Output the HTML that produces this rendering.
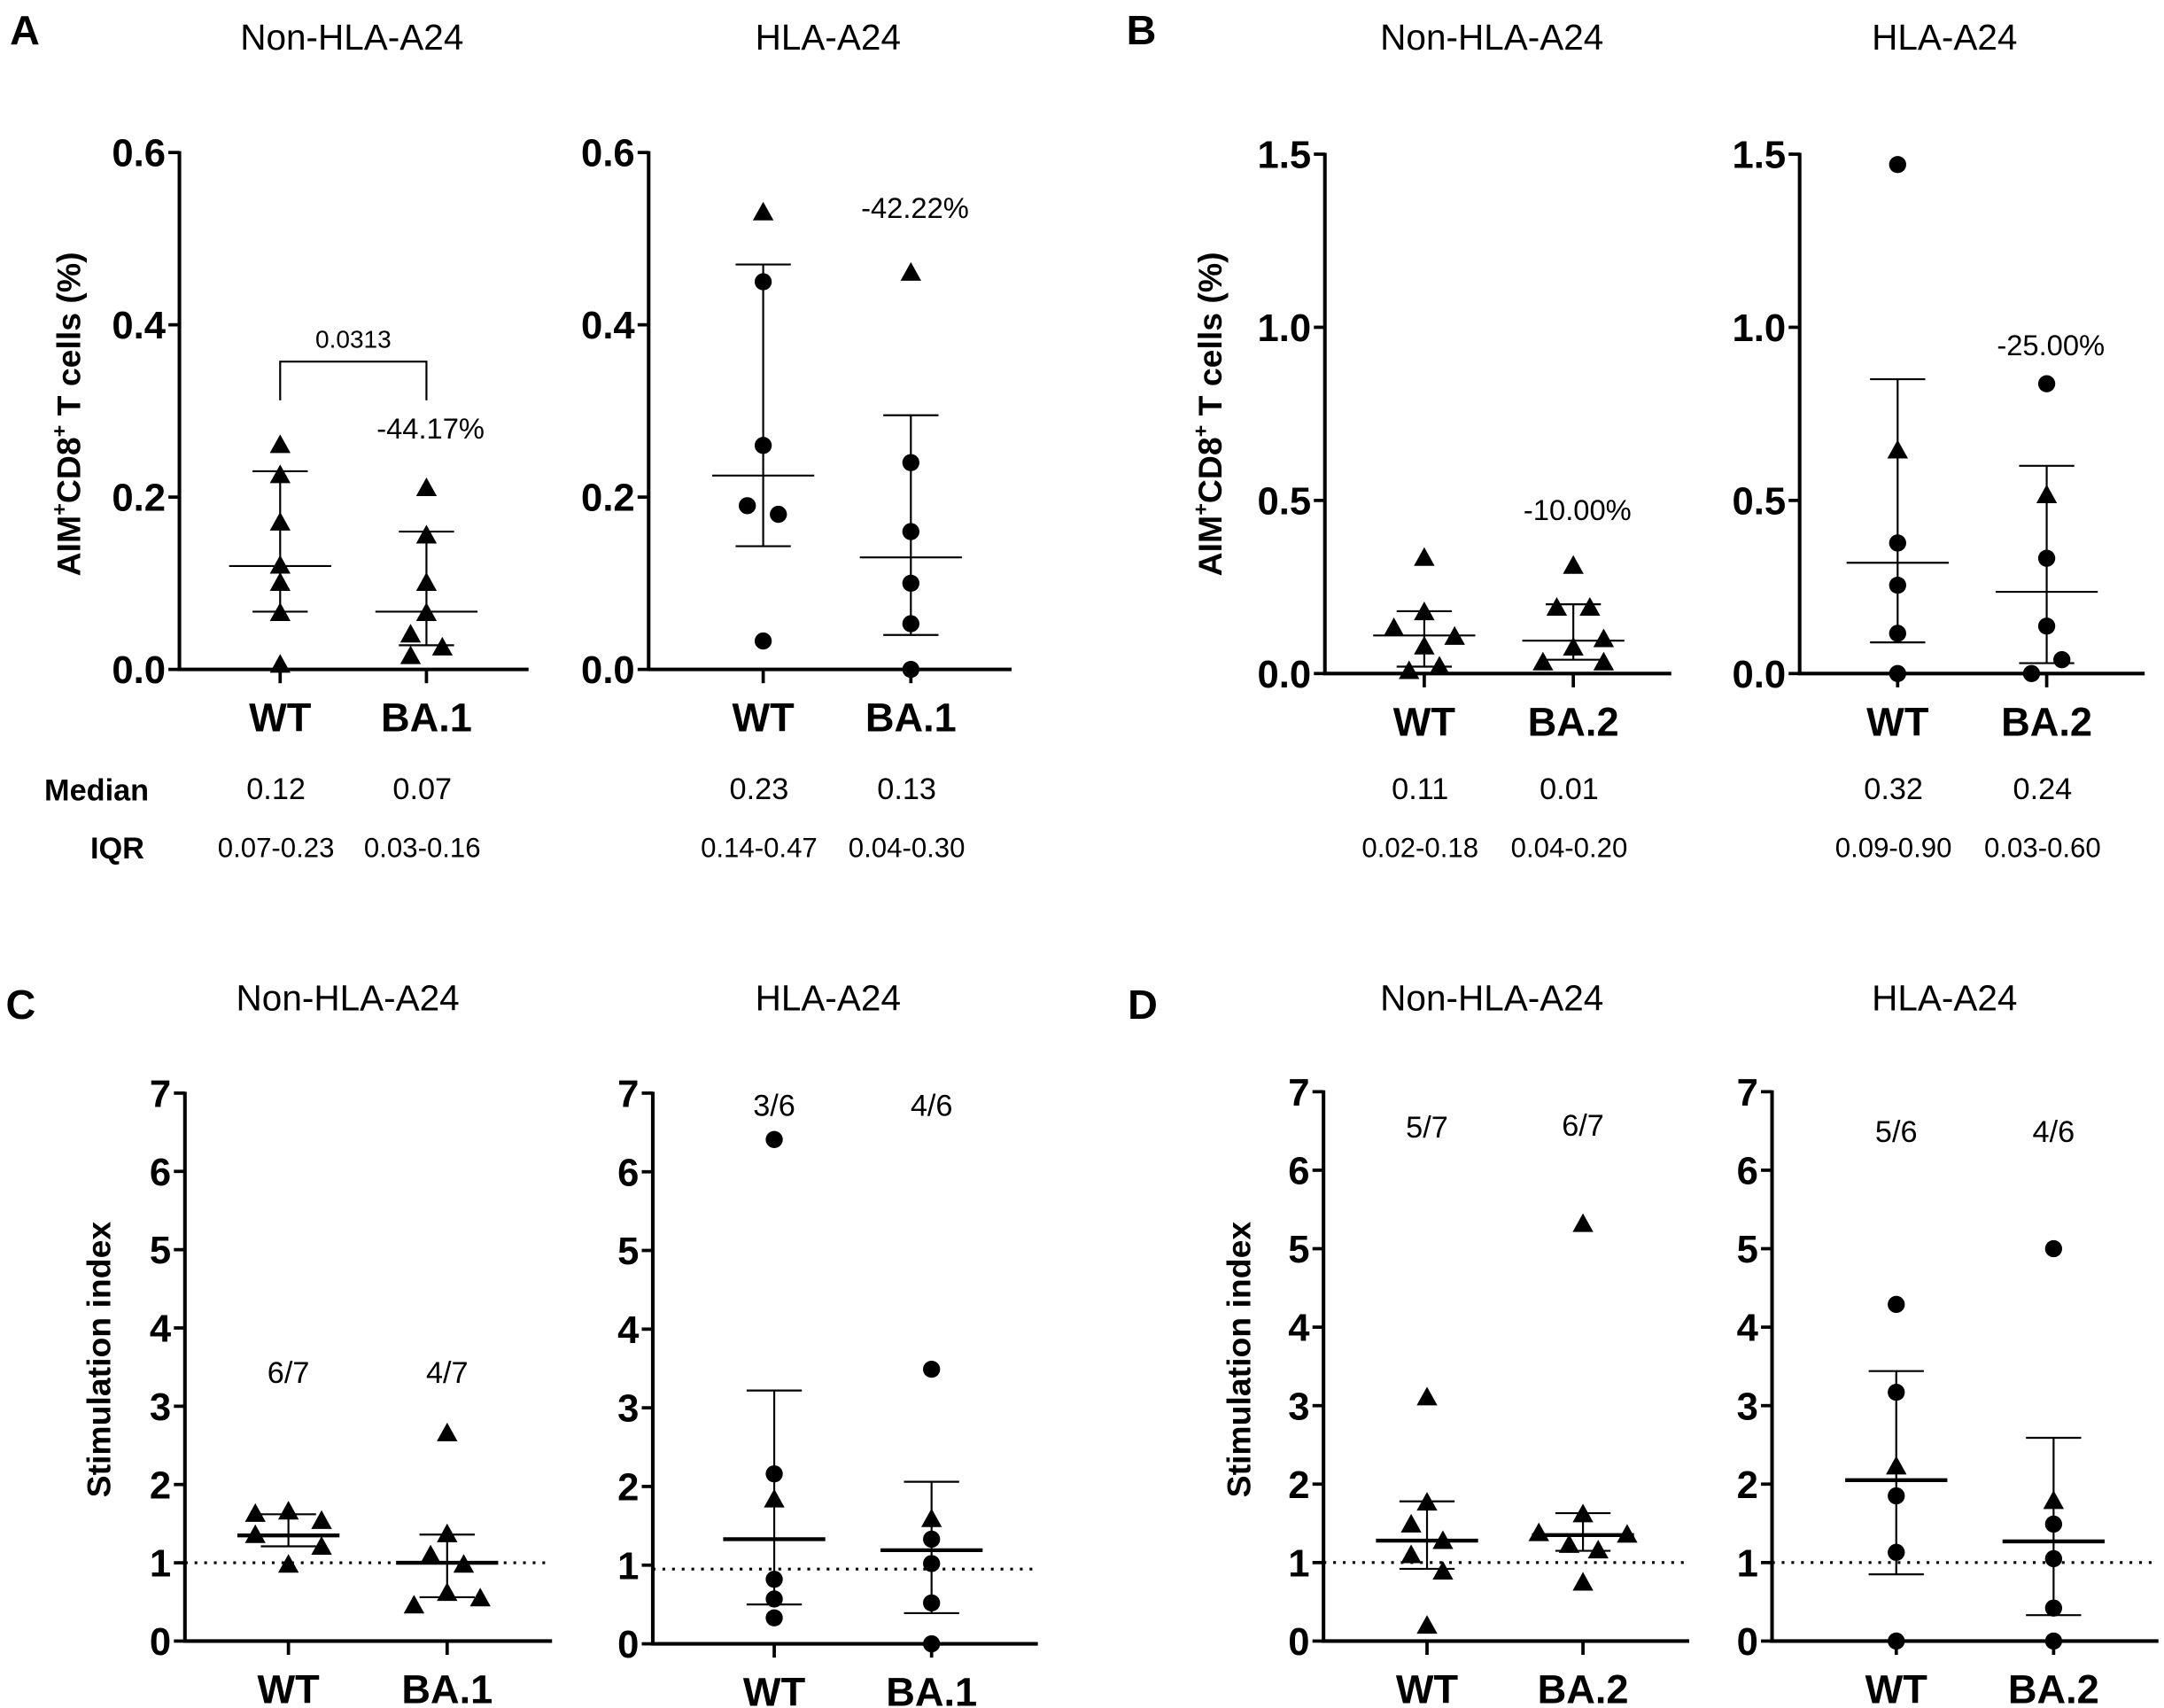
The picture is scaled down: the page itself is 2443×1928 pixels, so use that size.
<!DOCTYPE html>
<html><head><meta charset="utf-8"><style>
html,body{margin:0;padding:0;background:#fff;}
svg{display:block;}
text{font-family:"Liberation Sans",Arial,sans-serif;fill:#000;}
</style></head><body>
<svg id="fig" xmlns="http://www.w3.org/2000/svg" width="2443" height="1928" viewBox="0 0 1568 1237.5" preserveAspectRatio="none"></svg>
<script>
// ---- data ----
const aTicks = ['0.0','0.2','0.4','0.6'];
const bTicks = ['0.0','0.5','1.0','1.5'];
const cTicks = ['0','1','2','3','4','5','6','7'];
const aTickVals = [0,0.2,0.4,0.6];
const bTickVals = [0,0.5,1.0,1.5];
const cTickVals = [0,1,2,3,4,5,6,7];

const a1WT = [0.26,0.225,0.17,0.12,0.10,0.065,0.005];
const a1WTShape = ['t','t','t','t','t','t','t'];
const a1BA = [0.21,0.155,0.10,0.065,0.04,0.025,0.015];
const a1BAShape = ['t','t','t','t','t','t','t'];
const a2WT = [0.53,0.45,0.26,0.19,0.18,0.033];
const a2WTShape = ['t','c','c','c','c','c'];
const a2BA = [0.46,0.24,0.16,0.10,0.053,0.0];
const a2BAShape = ['t','c','c','c','c','c'];
const b1WT = [0.333,0.176,0.13,0.105,0.077,0.019,0.006];
const b1WTShape = ['t','t','t','t','t','t','t'];
const b1BA = [0.31,0.189,0.189,0.098,0.074,0.031,0.031];
const b1BAShape = ['t','t','t','t','t','t','t'];
const b2WT = [1.47,0.643,0.377,0.255,0.116,0.0];
const b2WTShape = ['c','t','c','c','c','c'];
const b2BA = [0.837,0.514,0.333,0.137,0.04,0.0];
const b2BAShape = ['c','t','c','c','c','c'];
const c1WT = [1.62,1.65,1.53,1.35,1.20,0.97];
const c1WTShape = ['t','t','t','t','t','t'];
const c1BA = [2.65,1.36,1.09,0.97,0.61,0.45,0.54];
const c1BAShape = ['t','t','t','t','t','t','t'];
const c2WT = [6.41,2.16,1.83,0.82,0.57,0.33];
const c2WTShape = ['c','c','t','c','c','c'];
const c2BA = [3.49,1.58,1.33,1.02,0.52,0.0];
const c2BAShape = ['c','t','c','c','c','c'];
const d1WT = [3.10,1.76,1.48,1.27,1.09,0.88,0.19];
const d1WTShape = ['t','t','t','t','t','t','t'];
const d1BA = [5.31,1.61,1.37,1.35,1.22,1.15,0.74];
const d1BAShape = ['t','t','t','t','t','t','t'];
const d2WT = [4.29,3.17,2.22,1.85,1.13,0.0];
const d2WTShape = ['c','c','t','c','c','c'];
const d2BA = [5.0,1.78,1.49,1.05,0.42,0.0];
const d2BAShape = ['c','t','c','c','c','c'];

// stats: [median, q1, q3] per group
const a1Stats = [[0.12,0.067,0.23],[0.067,0.028,0.16]];
const a2Stats = [[0.225,0.143,0.47],[0.13,0.04,0.295]];
const b1Stats = [[0.11,0.02,0.18],[0.095,0.04,0.20]];
const b2Stats = [[0.32,0.09,0.85],[0.236,0.03,0.60]];
const c1Stats = [[1.35,1.21,1.62],[1.0,0.56,1.36]];
const c2Stats = [[1.33,0.50,3.22],[1.19,0.39,2.06]];
const d1Stats = [[1.28,0.92,1.78],[1.35,1.15,1.63]];
const d2Stats = [[2.05,0.85,3.44],[1.27,0.33,2.59]];

const medianText = [['0.12','0.07'],['0.23','0.13'],['0.11','0.01'],['0.32','0.24']];
const iqrText = [['0.07-0.23','0.03-0.16'],['0.14-0.47','0.04-0.30'],['0.02-0.18','0.04-0.20'],['0.09-0.90','0.03-0.60']];
const ratioText = [['6/7','4/7'],['3/6','4/6'],['5/7','6/7'],['5/6','4/6']];
const ratioY = [[3.44,3.44],[6.85,6.85],[6.56,6.58],[6.5,6.5]];

// ---- layout (positions, not data) ----
const jA1W=[0,0,0,0,0,0,0], jA1B=[0,0,0,0,-11.5,11.5,-11.5];
const jA2W=[0,0,0,-11.5,11,0], jA2B=[0,0,0,0,0,0];
const jB1W=[0,0,-22,22,0,11,-11], jB1B=[0,-12,12,22,0,-22,22];
const jB2W=[0,0,0,0,0,0], jB2B=[0,0,0,0,11,-11];
const jC1W=[-24,0,24,-24,24,0], jC1B=[0,0,-12,12,0,-24,24];
const jC2W=[0,0,0,0,0,0], jC2B=[0,0,0,0,0,0];
const jD1W=[0,0,-11.5,11.5,-11.5,11.5,0], jD1B=[0,0,-32,32,-10,11,0];
const jD2W=[0,0,0,0,0,0], jD2B=[0,0,0,0,0,0];

const NS='http://www.w3.org/2000/svg';
const svg=document.getElementById('fig');
function mk(tag,attrs,parent){const e=document.createElementNS(NS,tag);for(const k in attrs)e.setAttribute(k,attrs[k]);(parent||svg).appendChild(e);return e;}
function txt(s,x,y,size,weight,anchor,parent){const t=mk('text',{x:x,y:y,'font-size':size,'font-weight':weight||'normal','text-anchor':anchor||'middle'},parent);t.textContent=s;return t;}

const panels=[
 {id:'a1',ax:130,x1:383,y0:485,yT:110.5,max:0.6,tv:aTickVals,tl:aTicks,cx:[203,309],cats:['WT','BA.1'],g:[[a1WT,a1WTShape,jA1W],[a1BA,a1BAShape,jA1B]],st:a1Stats,thick:false,title:'Non-HLA-A24',tx:255,ty:36},
 {id:'a2',ax:470,x1:733,y0:485,yT:110.5,max:0.6,tv:aTickVals,tl:aTicks,cx:[553,660],cats:['WT','BA.1'],g:[[a2WT,a2WTShape,jA2W],[a2BA,a2BAShape,jA2B]],st:a2Stats,thick:false,title:'HLA-A24',tx:600,ty:36},
 {id:'b1',ax:960,x1:1211,y0:488,yT:111.7,max:1.5,tv:bTickVals,tl:bTicks,cx:[1032,1140],cats:['WT','BA.2'],g:[[b1WT,b1WTShape,jB1W],[b1BA,b1BAShape,jB1B]],st:b1Stats,thick:false,title:'Non-HLA-A24',tx:1081,ty:36},
 {id:'b2',ax:1304,x1:1554,y0:488,yT:111.7,max:1.5,tv:bTickVals,tl:bTicks,cx:[1375,1483],cats:['WT','BA.2'],g:[[b2WT,b2WTShape,jB2W],[b2BA,b2BAShape,jB2B]],st:b2Stats,thick:false,title:'HLA-A24',tx:1409,ty:36},
 {id:'c1',ax:134,x1:400,y0:1189,yT:792,max:7,tv:cTickVals,tl:cTicks,cx:[209,324],cats:['WT','BA.1'],g:[[c1WT,c1WTShape,jC1W],[c1BA,c1BAShape,jC1B]],st:c1Stats,thick:true,title:'Non-HLA-A24',tx:252,ty:732,dot:1.0},
 {id:'c2',ax:473,x1:752,y0:1191,yT:792,max:7,tv:cTickVals,tl:cTicks,cx:[561,675],cats:['WT','BA.1'],g:[[c2WT,c2WTShape,jC2W],[c2BA,c2BAShape,jC2B]],st:c2Stats,thick:true,title:'HLA-A24',tx:600,ty:732,dot:0.95},
 {id:'d1',ax:959,x1:1224,y0:1189,yT:791,max:7,tv:cTickVals,tl:cTicks,cx:[1034,1147],cats:['WT','BA.2'],g:[[d1WT,d1WTShape,jD1W],[d1BA,d1BAShape,jD1B]],st:d1Stats,thick:true,title:'Non-HLA-A24',tx:1081,ty:732,dot:1.0},
 {id:'d2',ax:1284,x1:1564,y0:1189,yT:791,max:7,tv:cTickVals,tl:cTicks,cx:[1374,1488],cats:['WT','BA.2'],g:[[d2WT,d2WTShape,jD2W],[d2BA,d2BAShape,jD2B]],st:d2Stats,thick:true,title:'HLA-A24',tx:1409,ty:732,dot:1.0}
];

panels.forEach((p,pi)=>{
 const G=mk('g',{});
 
 
 const y=v=>p.y0-(v/p.max)*(p.y0-p.yT);
 const tt=txt(p.title,p.tx,p.ty,26,'normal','middle',G);
 
 
 const ya=mk('line',{x1:p.ax,y1:p.yT-1,x2:p.ax,y2:p.y0,stroke:'#000','stroke-width':2.6},G);
 
 
 const xa=mk('line',{x1:p.ax-1.3,y1:p.y0,x2:p.x1,y2:p.y0,stroke:'#000','stroke-width':2.6},G);
 
 
 p.tv.forEach((v,i)=>{
  mk('line',{x1:p.ax-8,y1:y(v),x2:p.ax,y2:y(v),stroke:'#000','stroke-width':2.4},G);
  const t=txt(p.tl[i],p.ax-10,y(v)+10,28,'bold','end',G);
  
  
 });
 p.cx.forEach((cx,i)=>{
  mk('line',{x1:cx,y1:p.y0,x2:cx,y2:p.y0+10,stroke:'#000','stroke-width':2.4},G);
  const t=txt(p.cats[i],cx,p.y0+45,29,'bold','middle',G);
  
  
 });
 if(p.dot!==undefined){
  const dl=mk('line',{x1:p.ax,y1:y(p.dot),x2:p.x1,y2:y(p.dot),stroke:'#000','stroke-width':2,'stroke-dasharray':'2,5'},G);
  
  
 }
 p.st.forEach((s,i)=>{
  const cx=p.cx[i];
  const eb=mk('g',{},G);
  
  
  mk('line',{x1:cx,y1:y(s[1]),x2:cx,y2:y(s[2]),stroke:'#000','stroke-width':1.4},eb);
  mk('line',{x1:cx-20,y1:y(s[1]),x2:cx+20,y2:y(s[1]),stroke:'#000','stroke-width':1.4},eb);
  mk('line',{x1:cx-20,y1:y(s[2]),x2:cx+20,y2:y(s[2]),stroke:'#000','stroke-width':1.4},eb);
  mk('line',{x1:cx-37,y1:y(s[0]),x2:cx+37,y2:y(s[0]),stroke:'#000','stroke-width':p.thick?2.8:1.4},eb);
 });
 p.g.forEach((gr,i)=>{
  const [vals,shapes,jit]=gr;
  vals.forEach((v,k)=>{
   const px=p.cx[i]+jit[k], py=y(v);
   let m;
   if(shapes[k]==='c') m=mk('circle',{cx:px,cy:py,r:6.2,fill:'#000'},G);
   else m=mk('polygon',{points:`${px},${py-8} ${px-7.5},${py+5.5} ${px+7.5},${py+5.5}`,fill:'#000'},G);
   
   
  });
 });
 if(pi<4){
  const pct=[['-44.17%',0.281],['-42.22%',0.537],['-10.00%',0.475],['-25.00%',0.951]][pi];
  const t=txt(pct[0],p.cx[1]+3,y(pct[1])+8,21,'normal','middle',G);
  
  
  medianText[pi].forEach((s,i)=>{
   const m=txt(s,p.cx[i]-3,579,22,'normal','middle',G);
   
   
   const q=txt(iqrText[pi][i],p.cx[i]-3,621,20,'normal','middle',G);
   
   
  });
 } else {
  ratioText[pi-4].forEach((s,i)=>{
   const r=txt(s,p.cx[i],y(ratioY[pi-4][i])+8,22,'normal','middle',G);
   
   
  });
 }
});

const br=mk('path',{d:'M203,290 V262 H309 V290',fill:'none',stroke:'#000','stroke-width':1.4});


const pv=txt('0.0313',256,252,18,'normal','middle');



const ml=txt('Median',70,580,22,'bold','middle');


const il=txt('IQR',85,622,22,'bold','middle');



[['A',18,32],['B',827,32],['C',15,738],['D',828,738]].forEach(l=>{
 const t=txt(l[0],l[1],l[2],30,'bold','middle');
 
 
});

function ytitle(x,yc,isAim,name){
 const t=mk('text',{x:0,y:0,'font-size':24,'font-weight':'bold','text-anchor':'middle',transform:`translate(${x},${yc}) rotate(-90)`});
 
 
 if(isAim){
  t.innerHTML='AIM<tspan dy="-10" font-size="15">+</tspan><tspan dy="10">CD8</tspan><tspan dy="-10" font-size="15">+</tspan><tspan dy="10"> T cells (%)</tspan>';
 } else t.textContent='Stimulation index';
}
ytitle(58,300,true,'y-axis-title-a');
ytitle(885,300,true,'y-axis-title-b');
ytitle(80,985,false,'y-axis-title-c');
ytitle(906,985,false,'y-axis-title-d');
</script>
</body></html>
